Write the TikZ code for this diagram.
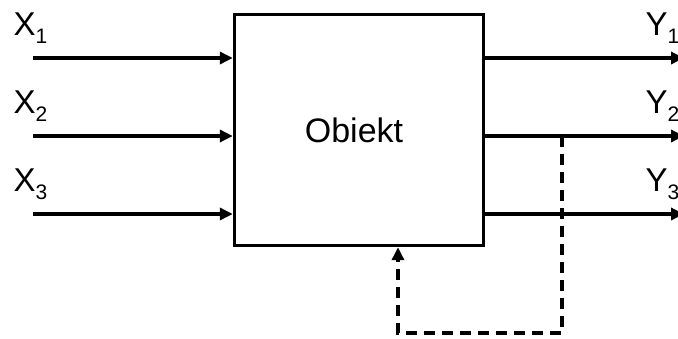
\documentclass[tikz,border=0pt]{standalone}
\usepackage{fontspec}
\setmainfont{Liberation Sans}
\usetikzlibrary{positioning,calc,arrows.meta}
\tikzstyle{blok}=[draw=black, line width=3.4pt, minimum width=249pt,
        minimum height=231pt, inner sep=0pt, font=\fontsize{34}{34}\selectfont]
\tikzstyle{lab}=[anchor=base west, inner sep=0pt, font=\fontsize{33}{33}\selectfont]
\newcommand{\lowidx}[1]{\raisebox{-8pt}{\fontsize{21}{21}\selectfont #1}}

\begin{document}
\begin{tikzpicture}[x=1pt, y=-1pt, line width=3.4pt,
        >={Triangle[length=13pt, width=12pt]}]
        \useasboundingbox (0,0) rectangle (678,338);
        \node[blok] (0) at (359,130) {\hspace*{-10pt}\raisebox{-8pt}{Obiekt}};

        % inputs
        \coordinate (in1) at (33,58);
        \coordinate (in2) at (33,136);
        \coordinate (in3) at (33,214);
        \draw[->] (in1) -- (in1 -| 0.west);
        \draw[->] (in2) -- (in2 -| 0.west);
        \draw[->] (in3) -- (in3 -| 0.west);
        \node[lab] (x1) at (12,35) {X\lowidx{1}};
        \node[lab] (x2) at (12,113) {X\lowidx{2}};
        \node[lab] (x3) at (12,191) {X\lowidx{3}};

        % outputs
        \coordinate (out1) at (684,58);
        \coordinate (out2) at (684,136);
        \coordinate (out3) at (684,214);
        \draw[->] (0.east |- out1) -- (out1);
        \draw[->] (0.east |- out2) -- (out2);
        \draw[->] (0.east |- out3) -- (out3);
        \node[lab] (y1) at (644,35) {Y\lowidx{1}};
        \node[lab] (y2) at (644,113) {Y\lowidx{2}};
        \node[lab] (y3) at (644,191) {Y\lowidx{3}};

        % feedback
        \coordinate (tap) at (562,136);
        \coordinate (fb) at (398,333);
        \draw[->, dash pattern=on 11pt off 7pt] (tap) |- (fb)
            -- (0.south -| fb);
\end{tikzpicture}
\end{document}
